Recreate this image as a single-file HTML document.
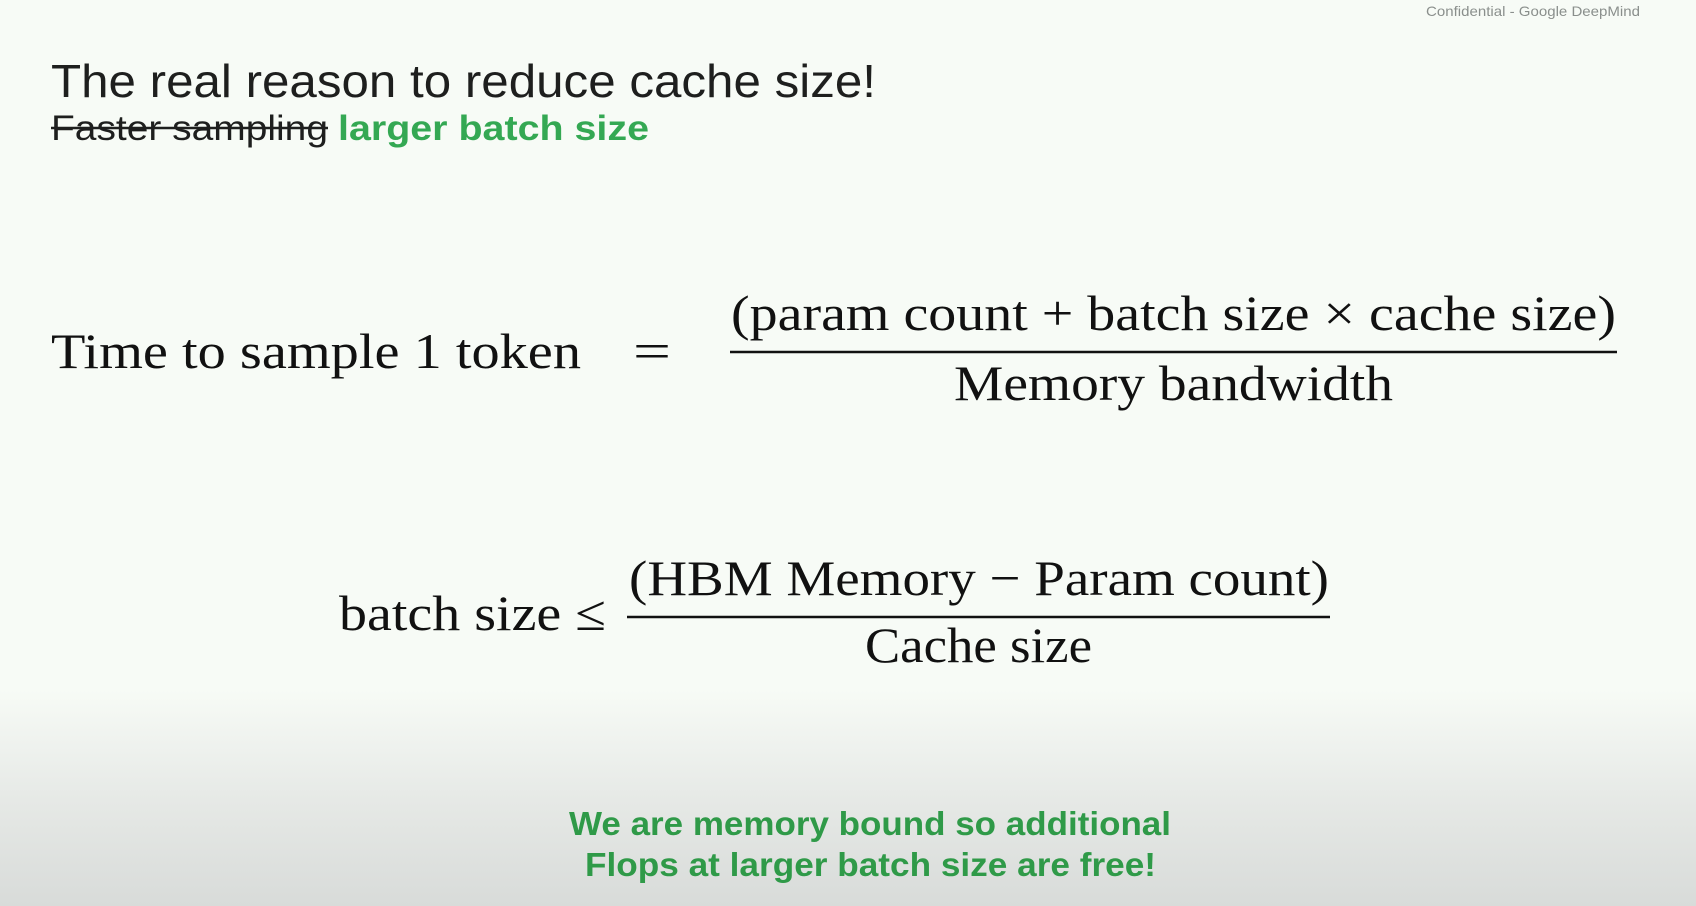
<!DOCTYPE html>
<html><head><meta charset="utf-8"><style>
html,body{margin:0;padding:0;}
body{width:1696px;height:906px;overflow:hidden;background:linear-gradient(to bottom,#f7fbf6 0px,#f7fbf6 690px,#e6e9e6 800px,#d8dbd9 906px);}
svg{position:absolute;left:0;top:0;}
</style></head><body>
<svg width="1696" height="906" xmlns="http://www.w3.org/2000/svg">
<text x="1426" y="16" font-family="Liberation Sans, sans-serif" font-size="14" fill="#8a8f8c" textLength="214" lengthAdjust="spacingAndGlyphs">Confidential - Google DeepMind</text>
<text x="51" y="97" font-family="Liberation Sans, sans-serif" font-size="46" fill="#1e1f1e" textLength="825" lengthAdjust="spacingAndGlyphs">The real reason to  reduce cache size!</text>
<text x="51" y="140" font-family="Liberation Sans, sans-serif" font-size="35" fill="#1e1f1e" textLength="277" lengthAdjust="spacingAndGlyphs">Faster sampling</text>
<line x1="51" y1="128" x2="328" y2="128" stroke="#1e1f1e" stroke-width="2.5"/>
<text x="338" y="140" font-family="Liberation Sans, sans-serif" font-size="35" font-weight="bold" fill="#34a853" textLength="311" lengthAdjust="spacingAndGlyphs">larger batch size</text>

<g font-family="Liberation Serif, serif" fill="#111" font-size="50">
<text x="51" y="368" textLength="530" lengthAdjust="spacingAndGlyphs">Time to sample 1 token</text>
<text x="633" y="368" textLength="38" lengthAdjust="spacingAndGlyphs">=</text>
<text x="731" y="330" textLength="885" lengthAdjust="spacingAndGlyphs">(param count + batch size × cache size)</text>
<line x1="730" y1="352" x2="1617" y2="352" stroke="#111" stroke-width="2.5"/>
<text x="954" y="400" textLength="439" lengthAdjust="spacingAndGlyphs">Memory bandwidth</text>

<text x="339" y="630" textLength="267" lengthAdjust="spacingAndGlyphs">batch size ≤</text>
<text x="629" y="595" textLength="700" lengthAdjust="spacingAndGlyphs">(HBM Memory − Param count)</text>
<line x1="627" y1="617" x2="1330" y2="617" stroke="#111" stroke-width="2.5"/>
<text x="865" y="662" textLength="227" lengthAdjust="spacingAndGlyphs">Cache size</text>
</g>

<g font-family="Liberation Sans, sans-serif" font-size="33" font-weight="bold" fill="#2f9a48">
<text x="569" y="835" textLength="602" lengthAdjust="spacingAndGlyphs">We are memory bound so additional</text>
<text x="585" y="876" textLength="571" lengthAdjust="spacingAndGlyphs">Flops at larger batch size are free!</text>
</g>
</svg>
</body></html>
